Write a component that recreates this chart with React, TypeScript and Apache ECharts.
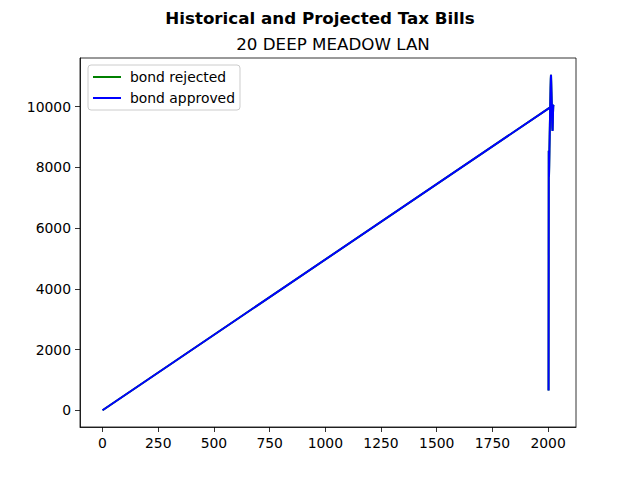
import { useEffect, useRef } from 'react';
import * as echarts from 'echarts';

// tax bill per year; the last entry is the stray (0, 0) point the source data ends with
const years = [
  2002, 2003, 2004, 2005, 2006, 2007, 2008, 2009, 2010, 2011, 2012, 2013,
  2014, 2015, 2016, 2017, 2018, 2019, 2020, 2021, 2022, 2023, 2024, 0,
];
const rejectedBills = [
  650, 8550, 7700, 8100, 8600, 9000, 9400, 9800, 10200, 10600, 10900, 11050,
  10800, 10500, 10200, 9900, 9600, 9300, 9200, 9500, 9800, 10000, 10050, 0,
];
const approvedBills = [
  650, 8550, 7700, 8100, 8600, 9000, 9400, 9800, 10200, 10600, 10900, 11050,
  10800, 10500, 10200, 9900, 9600, 9300, 9200, 9500, 9800, 10000, 10050, 0,
];
const xTicks = [0, 250, 500, 750, 1000, 1250, 1500, 1750, 2000];
const yTicks = [0, 2000, 4000, 6000, 8000, 10000];

const FONT = 'DejaVu Sans';

function TaxChart() {
  const chartRef = useRef<HTMLDivElement>(null);

  useEffect(() => {
    if (!chartRef.current) return;
    const chart = echarts.init(chartRef.current, null, { renderer: 'svg' });

    const xMin = Math.min(...years);
    const xMax = Math.max(...years);
    const xPad = (xMax - xMin) * 0.05;
    const allY = [...rejectedBills, ...approvedBills];
    const yMin = Math.min(...allY);
    const yMax = Math.max(...allY);
    const yPad = (yMax - yMin) * 0.05;

    const axisCommon = {
      axisLine: { show: true, onZero: false, lineStyle: { color: '#000', width: 0.8 } },
      splitLine: { show: false },
      axisTick: { show: true, inside: false, length: 5, lineStyle: { color: '#000', width: 0.8 } },
      axisLabel: {
        color: '#000',
        fontFamily: FONT,
        fontSize: 13.9,
        formatter: (v: number) => String(v),
      },
    };

    const option: any = {
      animation: false,
      backgroundColor: '#fff',
      title: [
        {
          text: 'Historical and Projected Tax Bills',
          left: 'center',
          top: 4,
          textStyle: { fontFamily: FONT, fontSize: 16.7, fontWeight: 'bold', color: '#000' },
        },
        {
          text: '20 DEEP MEADOW LAN',
          left: 328,
          textAlign: 'center',
          top: 30,
          textStyle: { fontFamily: FONT, fontSize: 16.7, fontWeight: 'normal', color: '#000' },
        },
      ],
      legend: {
        orient: 'vertical',
        left: 88,
        top: 65,
        padding: [4, 5, 4, 5],
        itemGap: 5,
        itemWidth: 28,
        itemHeight: 2,
        icon: 'rect',
        backgroundColor: '#fff',
        borderColor: '#cccccc',
        borderWidth: 1,
        borderRadius: 3,
        textStyle: { fontFamily: FONT, fontSize: 13.9, color: '#000', padding: [0, 0, 0, 4], lineHeight: 16 },
        data: ['bond rejected', 'bond approved'],
      },
      grid: {
        left: 80,
        right: 64,
        top: 58,
        bottom: 53,
        show: true,
        borderColor: '#000',
        borderWidth: 0.8,
        backgroundColor: 'transparent',
      },
      xAxis: {
        type: 'value',
        min: xMin - xPad,
        max: xMax + xPad,
        ...axisCommon,
        axisTick: { ...axisCommon.axisTick, customValues: xTicks },
        axisLabel: { ...axisCommon.axisLabel, margin: 9, customValues: xTicks },
      },
      yAxis: {
        type: 'value',
        min: yMin - yPad,
        max: yMax + yPad,
        ...axisCommon,
        axisTick: { ...axisCommon.axisTick, customValues: yTicks },
        axisLabel: { ...axisCommon.axisLabel, margin: 9, customValues: yTicks },
      },
      series: [
        {
          name: 'bond rejected',
          type: 'line',
          symbol: 'none',
          lineStyle: { color: '#008000', width: 2 },
          itemStyle: { color: '#008000' },
          data: years.map((y, i) => [y, rejectedBills[i]]),
        },
        {
          name: 'bond approved',
          type: 'line',
          symbol: 'none',
          lineStyle: { color: '#0000ff', width: 2 },
          itemStyle: { color: '#0000ff' },
          data: years.map((y, i) => [y, approvedBills[i]]),
        },
      ],
    };

    chart.setOption(option);
    return () => chart.dispose();
  }, []);

  return <div ref={chartRef} style={{ width: 640, height: 480 }} />;
}

export default function App() {
  return (
    <div style={{ position: 'absolute', left: 0, top: 0, width: 640, height: 480 }}>
      <TaxChart />
    </div>
  );
}
